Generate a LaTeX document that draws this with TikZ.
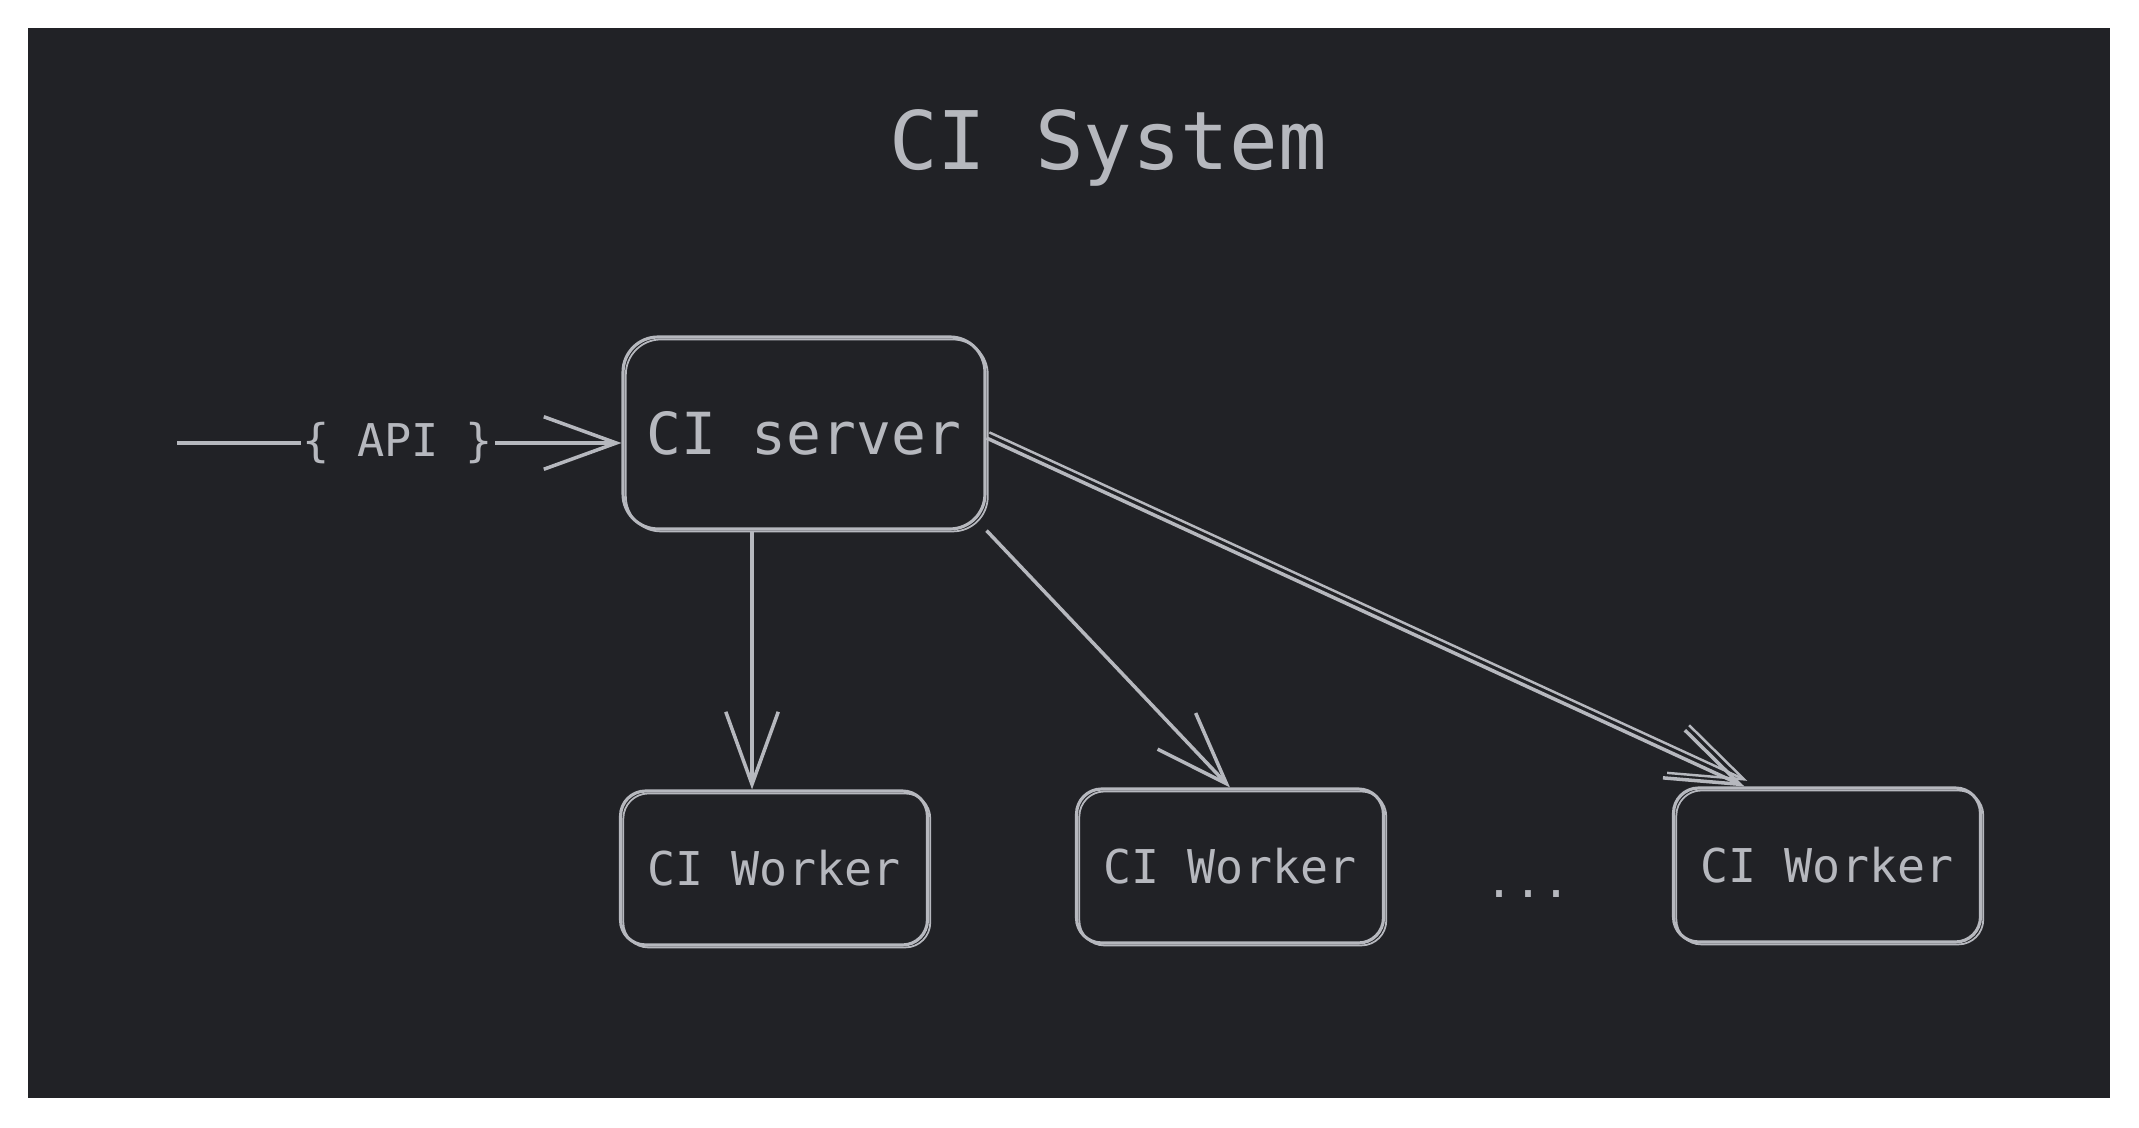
\documentclass[tikz,border=0pt]{standalone}
\usepackage{fontspec}
\setmonofont{DejaVu Sans Mono}
\usetikzlibrary{arrows.meta}
\definecolor{panelgray}{RGB}{33,34,38}
\definecolor{inkgray}{RGB}{182,184,190}

\tikzset{
  sketch/.style={draw=inkgray, line width=1.8pt,
    preaction={draw=inkgray, line width=1pt, transform canvas={xshift=1.6pt,yshift=-1.4pt}}},
  box/.style={sketch, rounded corners=#1, text=inkgray, font=\ttfamily},
  link/.style={inkgray, line width=2pt, -{Straight Barb[length=1.45cm,width=1.05cm]}},
  twostroke/.style={link, preaction={draw=inkgray, line width=1.4pt, -{Straight Barb[length=1.45cm,width=1.05cm]},
    transform canvas={xshift=1.6pt,yshift=3.2pt}}}
}

\begin{document}
\begin{tikzpicture}[x=0.02cm,y=-0.02cm]
\useasboundingbox (0,0) rectangle (2139,1128);
% Draw the dark panel
\fill[panelgray] (28,28) rectangle (2110,1098);
% Title
\node[text=inkgray,font=\ttfamily\fontsize{46}{50}\selectfont] (title) at (1108,148) {CI System};
% Server and workers
\node[box=0.7cm,minimum width=7.24cm,minimum height=3.84cm,font=\ttfamily\fontsize{33}{36}\selectfont] (server) at (804,433) {CI server};
\node[box=0.5cm,minimum width=6.14cm,minimum height=3.08cm,font=\ttfamily\fontsize{26.5}{30}\selectfont] (w1) at (774,868) {CI Worker};
\node[box=0.5cm,minimum width=6.14cm,minimum height=3.08cm,font=\ttfamily\fontsize{26.5}{30}\selectfont] (w2) at (1230,866) {CI Worker};
\node[box=0.5cm,minimum width=6.14cm,minimum height=3.08cm,font=\ttfamily\fontsize{26.5}{30}\selectfont] (w3) at (1827,865) {CI Worker};
\node[text=inkgray,font=\ttfamily\fontsize{26.5}{30}\selectfont,anchor=base] (dots) at (1528,897) {...};
% API entry
\coordinate (start) at (177,443);
\node[text=inkgray,font=\ttfamily\fontsize{25.7}{30}\selectfont,inner sep=1pt] (api) at (398,443) {\{ API \}};
\draw[inkgray,line width=2pt] (start) -- (api.west);
\draw[link] (api.east) -- (api.east -| server.west);
% Arrows to the workers
\draw[link] ([xshift=-1.04cm]server.south) -- ([xshift=-1.04cm]server.south |- w1.north);
\draw[link] (server.south east) -- (w2.north);
\draw[twostroke] ([yshift=-0.1cm]server.east) -- ([xshift=1.45cm]w3.north west);
\end{tikzpicture}
\end{document}
